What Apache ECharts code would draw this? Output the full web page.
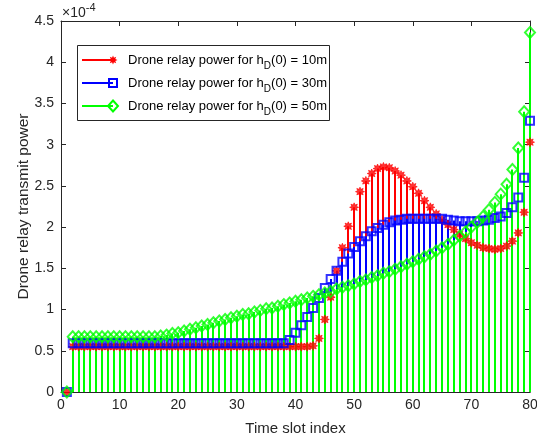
<!DOCTYPE html>
<html>
<head>
<meta charset="utf-8">
<script src="https://cdn.jsdelivr.net/npm/echarts@6/dist/echarts.min.js"></script>
<style>
  html, body { margin: 0; padding: 0; background: #fff; }
  #chart { width: 537px; height: 438px; }
</style>
</head>
<body>
<div id="chart"></div>
<script>
// values in units of 1e-4 (the axis shows the x10^-4 factor)
const timeSlots = Array.from({ length: 80 }, (_, i) => i + 1)

const power10m = [
  0,
  0.55, 0.55, 0.55, 0.55, 0.55, 0.55, 0.55, 0.55, 0.55, 0.55,
  0.55, 0.55, 0.55, 0.55, 0.55, 0.55, 0.55, 0.55, 0.55, 0.55,
  0.55, 0.55, 0.55, 0.55, 0.55, 0.55, 0.55, 0.55, 0.55, 0.55,
  0.55, 0.55, 0.55, 0.55, 0.55, 0.55, 0.55, 0.55, 0.55, 0.55,
  0.55, 0.56, 0.65, 0.88, 1.15, 1.47, 1.75, 2.01, 2.24, 2.43,
  2.56, 2.65, 2.71, 2.73, 2.72, 2.68, 2.63, 2.56, 2.49, 2.41,
  2.32, 2.24, 2.16, 2.09, 2.03, 1.97, 1.91, 1.86, 1.81, 1.78,
  1.75, 1.74, 1.73, 1.74, 1.77, 1.83, 1.93, 2.18, 3.03
]

const power30m = [
  0,
  0.59, 0.59, 0.59, 0.59, 0.59, 0.59, 0.59, 0.59, 0.59, 0.59,
  0.59, 0.59, 0.59, 0.59, 0.59, 0.59, 0.59, 0.59, 0.59, 0.59,
  0.59, 0.59, 0.59, 0.59, 0.59, 0.59, 0.59, 0.59, 0.59, 0.59,
  0.59, 0.59, 0.59, 0.59, 0.59, 0.59, 0.59, 0.63, 0.72, 0.81,
  0.91, 1.02, 1.14, 1.26, 1.37, 1.47, 1.58, 1.68, 1.76, 1.83,
  1.89, 1.95, 1.99, 2.03, 2.06, 2.08, 2.09, 2.10, 2.10, 2.10,
  2.10, 2.10, 2.10, 2.10, 2.09, 2.08, 2.07, 2.07, 2.07, 2.07,
  2.08, 2.09, 2.11, 2.13, 2.17, 2.24, 2.36, 2.60, 3.29
]

const power50m = [
  0,
  0.67, 0.67, 0.67, 0.67, 0.67, 0.67, 0.67, 0.67, 0.67, 0.67,
  0.67, 0.67, 0.67, 0.67, 0.67, 0.68, 0.69, 0.71, 0.72, 0.74,
  0.76, 0.78, 0.80, 0.82, 0.84, 0.86, 0.88, 0.90, 0.92, 0.94,
  0.95, 0.97, 0.99, 1.01, 1.02, 1.04, 1.06, 1.08, 1.10, 1.12,
  1.14, 1.16, 1.18, 1.20, 1.22, 1.25, 1.27, 1.29, 1.31, 1.34,
  1.36, 1.39, 1.41, 1.44, 1.46, 1.49, 1.52, 1.55, 1.58, 1.61,
  1.64, 1.67, 1.71, 1.75, 1.79, 1.84, 1.89, 1.94, 2.00, 2.06,
  2.13, 2.21, 2.30, 2.40, 2.52, 2.70, 2.96, 3.40, 4.36
]

const seriesNames = ['10m', '30m', '50m']
const xTicks = [0, 80, 10]
const yTicks = [0, 4.5, 0.5]

const FONT = '"Liberation Sans", Arial, Helvetica, sans-serif'
const AXIS = '#262626'
const RED = '#ff0000'
const BLUE = '#0000ff'
const GREEN = '#00ff00'

// 8-point star looks like MATLAB's thick '*' marker
const starPts = []
for (let k = 0; k < 16; k++) {
  const a = k * Math.PI / 8 - Math.PI / 2
  const r = k % 2 === 0 ? 1 : 0.55
  starPts.push([r * Math.cos(a), r * Math.sin(a)])
}
const starPath = 'path://M' + starPts.map(p => (p[0] * 10).toFixed(2) + ',' + (p[1] * 10).toFixed(2)).join('L') + 'Z'

const pairs = vals => vals.map((v, i) => [timeSlots[i], v])

const stemSeries = (vals, color) => ({
  type: 'custom',
  clip: false,
  data: pairs(vals),
  renderItem: (params, api) => {
    const top = api.coord([api.value(0), api.value(1)])
    const base = api.coord([api.value(0), 0])
    const x = Math.round(top[0])
    return {
      type: 'line',
      shape: { x1: x, y1: base[1], x2: x, y2: top[1] },
      style: { stroke: color, lineWidth: 2 }
    }
  }
})

const markerSeries = (vals, color, symbol, size, filled) => ({
  type: 'scatter',
  clip: false,
  data: pairs(vals),
  symbol,
  symbolSize: size,
  itemStyle: filled
    ? { color, borderColor: color, borderWidth: 0.8 }
    : { color: 'rgba(0,0,0,0)', borderColor: color, borderWidth: 2 }
})

const chart = echarts.init(document.getElementById('chart'))

const legendRow = (y, color, label, marker) => [
  { type: 'line', shape: { x1: 82, y1: y, x2: 113, y2: y }, style: { stroke: color, lineWidth: 2 } },
  marker,
  {
    type: 'text', x: 128, y: y,
    style: {
      text: 'Drone relay power for h{sub|D}(0) = ' + label,
      fill: '#000', font: '13px ' + FONT, verticalAlign: 'middle',
      rich: { sub: { fontSize: 10, fontFamily: FONT, fill: '#000', padding: [12, 0, 0, 0] } }
    }
  }
]

const option = {
  animation: false,
  backgroundColor: '#fff',
  grid: { left: 61, right: 7, top: 21, bottom: 46, containLabel: false, outerBoundsMode: 'none' },
  xAxis: [
    {
      type: 'value', min: xTicks[0], max: xTicks[1], interval: xTicks[2], position: 'bottom',
      name: 'Time slot index', nameLocation: 'middle', nameGap: 29, nameMoveOverlap: false,
      nameTextStyle: { color: AXIS, fontSize: 15, fontFamily: FONT },
      axisLine: { show: true, onZero: false, lineStyle: { color: AXIS, width: 1 } },
      axisTick: { show: true, inside: true, length: 5, lineStyle: { color: AXIS } },
      axisLabel: { color: AXIS, fontSize: 14, fontFamily: FONT, margin: 6 },
      splitLine: { show: false }
    },
    {
      type: 'value', min: xTicks[0], max: xTicks[1], interval: xTicks[2], position: 'top',
      axisLine: { show: true, onZero: false, lineStyle: { color: AXIS, width: 1 } },
      axisTick: { show: true, inside: true, length: 5, lineStyle: { color: AXIS } },
      axisLabel: { show: false },
      splitLine: { show: false }
    }
  ],
  yAxis: [
    {
      type: 'value', min: yTicks[0], max: yTicks[1], interval: yTicks[2], position: 'left',
      name: 'Drone relay transmit power', nameLocation: 'middle', nameGap: 29, nameMoveOverlap: false,
      nameTextStyle: { color: AXIS, fontSize: 15.5, fontFamily: FONT },
      axisLine: { show: true, onZero: false, lineStyle: { color: AXIS, width: 1 } },
      axisTick: { show: true, inside: true, length: 5, lineStyle: { color: AXIS } },
      axisLabel: { color: AXIS, fontSize: 14, fontFamily: FONT, margin: 7 },
      splitLine: { show: false }
    },
    {
      type: 'value', min: yTicks[0], max: yTicks[1], interval: yTicks[2], position: 'right',
      axisLine: { show: true, onZero: false, lineStyle: { color: AXIS, width: 1 } },
      axisTick: { show: true, inside: true, length: 5, lineStyle: { color: AXIS } },
      axisLabel: { show: false },
      splitLine: { show: false }
    }
  ],
  series: [
    stemSeries(power10m, RED),
    markerSeries(power10m, RED, starPath, 9, true),
    stemSeries(power30m, BLUE),
    markerSeries(power30m, BLUE, 'rect', 8, false),
    stemSeries(power50m, GREEN),
    markerSeries(power50m, GREEN, 'diamond', [10, 11], false)
  ],
  graphic: [
    {
      type: 'text', x: 62, y: 13, z: 100,
      style: {
        text: '\u00d710{sup|-4}', fill: AXIS, font: '14px ' + FONT, verticalAlign: 'middle',
        rich: { sup: { fontSize: 11, fontFamily: FONT, fill: AXIS, padding: [0, 0, 11, 0] } }
      }
    },
    {
      type: 'group', z: 100,
      children: [
        { type: 'rect', shape: { x: 77.5, y: 45.5, width: 252, height: 75 }, style: { fill: '#fff', stroke: AXIS, lineWidth: 1 } },
        ...legendRow(60, RED, seriesNames[0],
          { type: 'polygon', shape: { points: starPts.map(p => [113 + p[0] * 4.5, 60 + p[1] * 4.5]) }, style: { fill: RED } }),
        ...legendRow(83, BLUE, seriesNames[1],
          { type: 'rect', shape: { x: 109, y: 79, width: 8, height: 8 }, style: { fill: 'none', stroke: BLUE, lineWidth: 2 } }),
        ...legendRow(106, GREEN, seriesNames[2],
          { type: 'polygon', shape: { points: [[113, 100.5], [118, 106], [113, 111.5], [108, 106]] }, style: { fill: 'none', stroke: GREEN, lineWidth: 2 } })
      ]
    }
  ]
}

chart.setOption(option)
</script>
</body>
</html>
